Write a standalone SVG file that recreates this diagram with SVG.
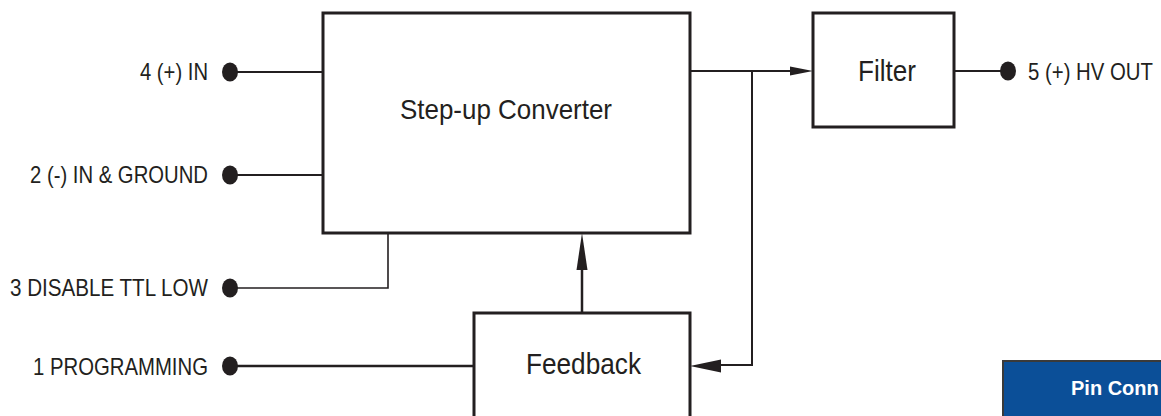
<svg xmlns="http://www.w3.org/2000/svg" width="1161" height="416" viewBox="0 0 1161 416">
<style>
.box{fill:#fff;stroke:#231f20;stroke-width:3}
.lbl{font-family:"Liberation Sans",Arial,sans-serif;font-size:24px;fill:#231f20}
.title{font-family:"Liberation Sans",Arial,sans-serif;fill:#231f20}
.wire{fill:none;stroke:#231f20;stroke-width:2}
.pin{fill:#231f20}
.ah{fill:#231f20;stroke:none}
</style>
<rect width="1161" height="416" fill="#fff"/>
<g id="connectors">
  <path class="wire" d="M230 72H323"/>
  <path class="wire" d="M230 175H323"/>
  <path class="wire" style="stroke-width:1.6" d="M230 288H388V233"/>
  <path class="wire" style="stroke-width:2.5" d="M230 366H474"/>
  <path class="wire" d="M690 71H792"/>
  <polygon class="ah" points="813,71 790,66.5 790,75.5"/>
  <path class="wire" d="M752 71V365H720"/>
  <polygon class="ah" points="690,366 721,359.5 721,372.5"/>
  <path class="wire" style="stroke-width:2.5" d="M582 313V266"/>
  <polygon class="ah" points="582,233 576.5,270 587.5,270"/>
  <path class="wire" d="M954 71H1008"/>
</g>
<g id="converter">
  <rect class="box" x="323" y="13" width="367" height="220"/>
  <text class="title" x="400" y="119" font-size="28" textLength="212" lengthAdjust="spacingAndGlyphs">Step-up Converter</text>
</g>
<g id="filter">
  <rect class="box" x="813" y="13" width="141" height="114"/>
  <text class="title" x="858" y="81" font-size="30" textLength="58" lengthAdjust="spacingAndGlyphs">Filter</text>
</g>
<g id="feedback">
  <rect class="box" x="474" y="313" width="216" height="130"/>
  <text class="title" x="526" y="374" font-size="29" textLength="115" lengthAdjust="spacingAndGlyphs">Feedback</text>
</g>
<g id="pin4">
  <ellipse class="pin" cx="230" cy="72" rx="8" ry="9.5"/>
  <text class="lbl" x="208" y="80" text-anchor="end" textLength="68" lengthAdjust="spacingAndGlyphs">4 (+) IN</text>
</g>
<g id="pin2">
  <ellipse class="pin" cx="230" cy="175" rx="8" ry="9.5"/>
  <text class="lbl" x="208" y="183" text-anchor="end" textLength="178" lengthAdjust="spacingAndGlyphs">2 (-) IN &amp; GROUND</text>
</g>
<g id="pin3">
  <ellipse class="pin" cx="230" cy="288" rx="8" ry="9.5"/>
  <text class="lbl" x="208" y="296" text-anchor="end" textLength="198" lengthAdjust="spacingAndGlyphs">3 DISABLE TTL LOW</text>
</g>
<g id="pin1">
  <ellipse class="pin" cx="230" cy="366" rx="8" ry="9.5"/>
  <text class="lbl" x="208" y="375" text-anchor="end" textLength="175" lengthAdjust="spacingAndGlyphs">1 PROGRAMMING</text>
</g>
<g id="pin5">
  <ellipse class="pin" cx="1008" cy="71" rx="8" ry="9.5"/>
  <text class="lbl" x="1028" y="80" textLength="125" lengthAdjust="spacingAndGlyphs">5 (+) HV OUT</text>
</g>
<g id="pin-connections">
  <rect x="1003" y="361" width="200" height="80" fill="#0b4f98" stroke="#3a3a3a" stroke-width="2"/>
  <text x="1071" y="395" font-family="'Liberation Sans',Arial,sans-serif" font-size="20" font-weight="bold" fill="#fff">Pin Conn</text>
</g>
</svg>
